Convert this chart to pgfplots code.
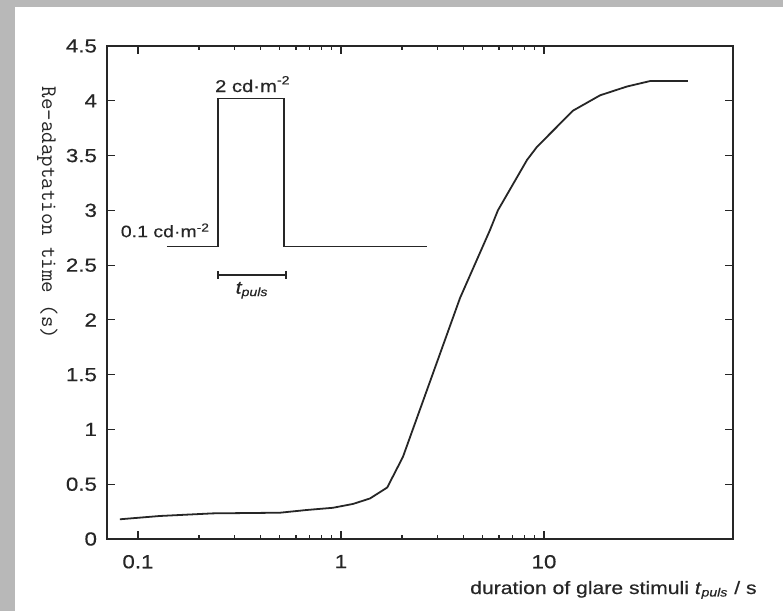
\documentclass[border=0pt]{standalone}
\usepackage{fontspec}
\setmainfont{Liberation Sans}[FakeStretch=1.18, FakeBold=0.4]
\usepackage{pgfplots}
\pgfplotsset{compat=1.18}
\usetikzlibrary{arrows.meta}

\definecolor{ink}{HTML}{262626}
\definecolor{frame}{HTML}{B8B8B8}

% re-adaptation time against glare pulse duration
\pgfplotstableread{
t      r
0.0815 0.18
0.128  0.21
0.234  0.234
0.501  0.24
0.680  0.265
0.913  0.285
1.146  0.32
1.39   0.37
1.69   0.47
2.02   0.75
3.86   2.20
5.42   2.82
5.93   3.00
8.25   3.46
9.24   3.58
13.9   3.91
18.9   4.05
25.6   4.13
33.3   4.18
51.2   4.18
}\readapt

% schematic luminance pulse (0.1 -> 2 -> 0.1 cd/m^2)
\pgfplotstableread{
t     L
0.139 2.67
0.248 2.67
0.248 4.02
0.524 4.02
0.524 2.67
2.65  2.67
}\pulse

\begin{document}
\begin{tikzpicture}[x=1bp,y=1bp]
\useasboundingbox (-53.5,-36) rectangle (338,269.5);
\fill[frame] (-53.5,-36) rectangle (338,269.5);
\fill[white] (-46,-36) rectangle (338,266);
\begin{axis}[
  at={(0,0)}, anchor=south west,
  scale only axis, width=313bp, height=246.5bp,
  xmode=log, xmin=0.0704, xmax=85.3,
  ymin=0, ymax=4.5,
  xtick={0.1,1,10}, xticklabels={0.1,1,10},
  ytick={0,0.5,1,1.5,2,2.5,3,3.5,4,4.5},
  yticklabels={0,0.5,1,1.5,2,2.5,3,3.5,4,4.5},
  minor ytick={},
  tick align=inside,
  major tick length=4bp, minor tick length=2bp,
  every tick/.style={ink, line width=0.6pt},
  axis line style={ink, line width=0.9pt},
  tick label style={font=\fontsize{9.5}{11}\selectfont, text=ink},
  /pgf/number format/assume math mode=true,
  xticklabel style={yshift=-4.5bp},
  yticklabel style={xshift=-1.5bp},
  clip=false,
]
\addplot[ink, line width=0.9pt] table[x=t, y=r] {\readapt};
\addplot[ink, line width=0.9pt] table[x=t, y=L] {\pulse};
\addplot[ink, line width=0.9pt, {Bar[width=4bp]}-{Bar[width=4bp]}] coordinates {(0.245,2.41) (0.542,2.41)};
\node[font=\fontsize{8.6}{10}\selectfont, text=ink, anchor=base] at (axis cs:0.368,4.08) {2 cd·m\textsuperscript{-2}};
\node[font=\fontsize{8.3}{10}\selectfont, text=ink, anchor=base west, inner sep=0pt] at (axis cs:0.082,2.755) {0.1 cd·m\textsuperscript{-2}};
\node[font=\fontsize{9}{10}\selectfont\itshape, text=ink] at (axis cs:0.365,2.27) {t\textsubscript{puls}};
\end{axis}
\node[rotate=-90, font=\fontsize{11.2}{13}\ttfamily, text=ink] at (-29.75,163) {Re-adaptation time (s)};
\node[font=\fontsize{9}{10}\selectfont, text=ink, anchor=base east, inner sep=0pt] at (325,-27.5) {duration of glare stimuli \textit{t}\textsubscript{\textit{puls}} / s};
\end{tikzpicture}
\end{document}
